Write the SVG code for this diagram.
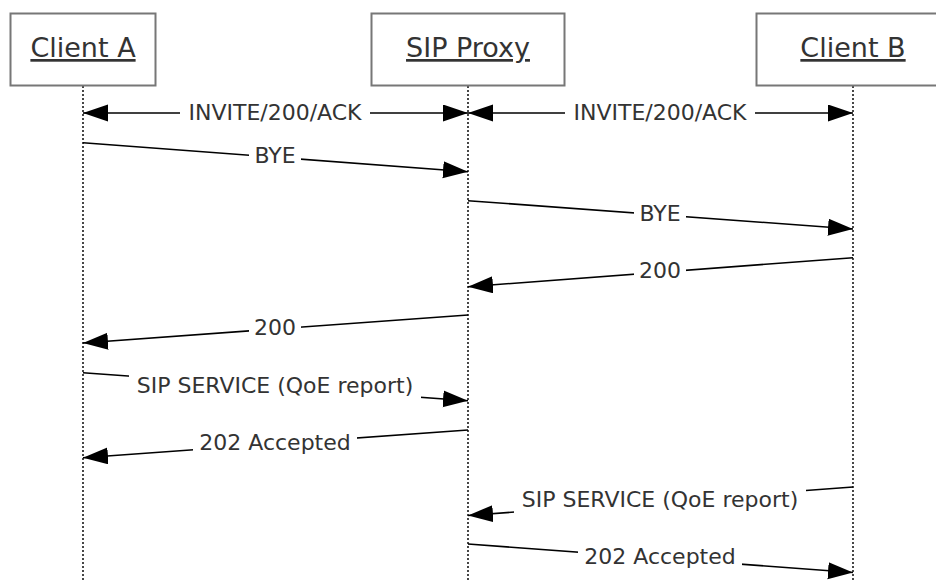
<svg xmlns="http://www.w3.org/2000/svg" width="936" height="582" viewBox="0 0 936 582">
<style>
.box{fill:#fff;stroke:#777;stroke-width:2}
.hdr{font-family:"DejaVu Sans",Verdana,sans-serif;font-size:27px;fill:#333;text-anchor:middle;text-decoration:underline}
.life{stroke:#333;stroke-width:1.8;stroke-dasharray:2 2;fill:none}
.msg{stroke:#000;stroke-width:1.6;fill:none;marker-end:url(#ah)}
.dbl{marker-start:url(#ah)}
.lbg{fill:#fff}
.lbl{font-family:"DejaVu Sans",Verdana,sans-serif;font-size:22px;fill:#333;text-anchor:middle}
</style>
<defs>
<marker id="ah" markerUnits="userSpaceOnUse" markerWidth="26" markerHeight="18" refX="25" refY="8.5" orient="auto-start-reverse" viewBox="0 0 26 18">
<path d="M0,0 L25,8.5 L0,17 z" fill="#000"/>
</marker>
</defs>
<rect width="936" height="582" fill="#fff"/>
<g id="lifelines">
<line class="life" x1="83" y1="86" x2="83" y2="582"/>
<line class="life" x1="468" y1="86" x2="468" y2="582"/>
<line class="life" x1="853" y1="86" x2="853" y2="582"/>
</g>
<g id="clientA">
<rect class="box" x="10.5" y="13.5" width="145" height="72"/>
<text class="hdr" x="83" y="57">Client A</text>
</g>
<g id="sipProxy">
<rect class="box" x="371.5" y="13.5" width="193" height="72"/>
<text class="hdr" x="468" y="57">SIP Proxy</text>
</g>
<g id="clientB">
<rect class="box" x="756.5" y="13.5" width="193" height="72"/>
<text class="hdr" x="853" y="57">Client B</text>
</g>
<g id="connectors">
<line class="msg dbl" x1="83" y1="113" x2="468" y2="113"/>
<rect class="lbg" x="180" y="100" width="190" height="26"/>
<text class="lbl" x="275" y="119.5">INVITE/200/ACK</text>

<line class="msg dbl" x1="468" y1="113" x2="853" y2="113"/>
<rect class="lbg" x="565" y="100" width="190" height="26"/>
<text class="lbl" x="660" y="119.5">INVITE/200/ACK</text>

<line class="msg" x1="83" y1="142.7" x2="468" y2="171.7"/>
<rect class="lbg" x="249" y="144" width="52" height="26"/>
<text class="lbl" x="275" y="163">BYE</text>

<line class="msg" x1="468" y1="200.7" x2="853" y2="229"/>
<rect class="lbg" x="634" y="202" width="52" height="26"/>
<text class="lbl" x="660" y="221">BYE</text>

<line class="msg" x1="853" y1="257.7" x2="468" y2="286.7"/>
<rect class="lbg" x="634" y="259" width="52" height="26"/>
<text class="lbl" x="660" y="278">200</text>

<line class="msg" x1="468" y1="315" x2="83" y2="343"/>
<rect class="lbg" x="249" y="316" width="52" height="26"/>
<text class="lbl" x="275" y="335">200</text>

<line class="msg" x1="83" y1="372.7" x2="468" y2="400.7"/>
<rect class="lbg" x="129" y="372" width="292" height="29"/>
<text class="lbl" x="275" y="392.5">SIP SERVICE (QoE report)</text>

<line class="msg" x1="468" y1="430" x2="83" y2="457.7"/>
<rect class="lbg" x="193" y="430" width="164" height="28"/>
<text class="lbl" x="275" y="450">202 Accepted</text>

<line class="msg" x1="853" y1="487" x2="468" y2="515.5"/>
<rect class="lbg" x="514" y="487" width="292" height="29"/>
<text class="lbl" x="660" y="507">SIP SERVICE (QoE report)</text>

<line class="msg" x1="468" y1="544" x2="853" y2="572.5"/>
<rect class="lbg" x="578" y="544" width="164" height="28"/>
<text class="lbl" x="660" y="564">202 Accepted</text>
</g>
</svg>
